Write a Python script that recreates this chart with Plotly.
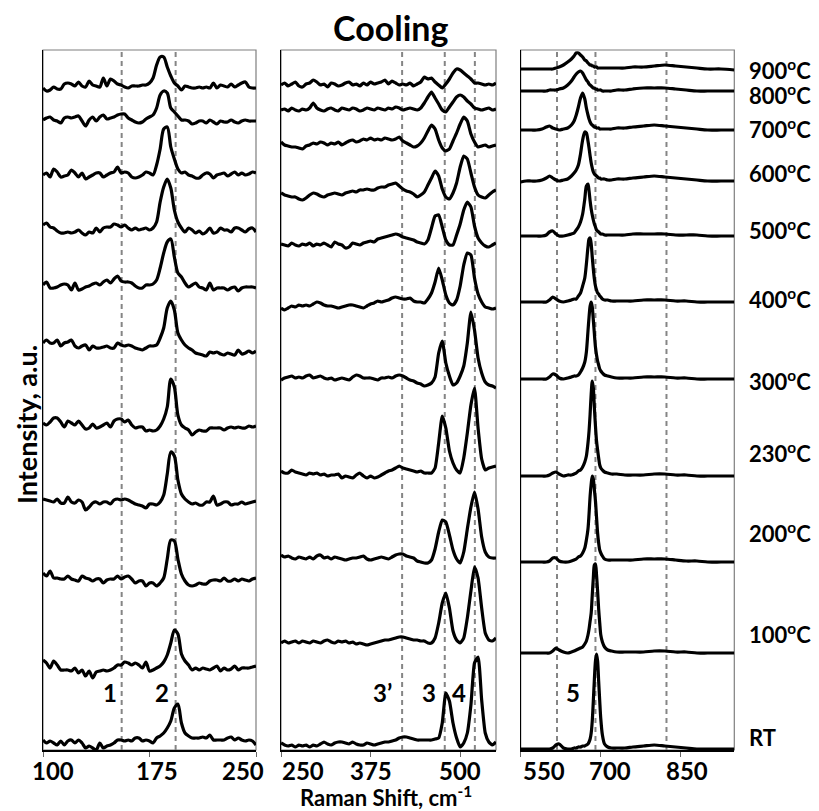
import plotly.graph_objects as go

# ---------------- data ----------------
LABELS = ["900", "800", "700", "600", "500", "400", "300", "230", "200", "100", "RT"]
LABEL_TEXT = ["900<sup>o</sup>C", "800<sup>o</sup>C", "700<sup>o</sup>C", "600<sup>o</sup>C",
              "500<sup>o</sup>C", "400<sup>o</sup>C", "300<sup>o</sup>C", "230<sup>o</sup>C",
              "200<sup>o</sup>C", "100<sup>o</sup>C", "RT"]

# Raman shift sampling (cm-1)
X1 = [100, 102.5, 105, 107.5, 110, 112.5, 115, 117.5, 120, 122.5, 125, 127.5, 130, 132.5, 135,
      137.5, 140, 142.5, 145, 147.5, 150, 152.5, 155, 157.5, 160, 162.5, 165, 167.5, 170, 172.5,
      175, 177.5, 180, 182.5, 185, 187.5, 190, 192.5, 195, 197.5, 200, 202.5, 205, 207.5, 210,
      212.5, 215, 217.5, 220, 222.5, 225, 227.5, 230, 232.5, 235, 237.5, 240, 242.5, 245, 247.5, 250]
X2 = [250, 255, 260, 265, 270, 275, 280, 285, 290, 295, 300, 305, 310, 315, 320, 325, 330, 335,
      340, 345, 350, 355, 360, 365, 370, 375, 380, 385, 390, 395, 400, 405, 410, 415, 420, 425,
      430, 435, 440, 445, 450, 455, 460, 465, 470, 475, 480, 485, 490, 495, 500, 505, 510, 515,
      520, 525, 530, 535, 540, 545, 550]
X3 = [550, 560, 570, 580, 590, 598, 604, 610, 616, 622, 630, 638, 645, 650, 654, 658, 662, 666,
      670, 673, 676, 678, 680, 682, 684, 686, 688, 690, 692, 694, 696, 698, 700, 703, 707, 713,
      720, 730, 745, 760, 780, 800, 820, 840, 860, 880, 900, 925, 950]

# stacking offsets (a.u.) of each spectrum in each panel
BASE1 = [662, 630, 575, 520, 465, 402, 325, 248, 169, 82, 7]
BASE2 = [665, 640, 605, 555, 505, 442, 372, 277, 193, 107, 5]
BASE3 = [681, 659, 620, 569, 514, 448, 371, 274, 188, 97, 1]

# panel 1 intensities (100-250 cm-1)
P1_900 = [0,-3,-2,1,-1,-1,4,5,4,2, 6,2,1,7,3,2,1,10,2,9, 7,4,3,1,0,2,2,2,3,3,
          5,10,23,31,31,21,12,5,2,-2, 2,1,0,0,1,0,1,0,5,0, 3,2,1,4,1,3,5,6,1,0, 0]
P1_800 = [0,2,3,0,-1,-3,2,3,2,3, 4,-1,-6,0,3,-1,3,5,1,2, 3,5,6,6,2,0,-2,-3,-2,1,
          3,5,12,25,29,27,12,8,4,0, 0,-1,-4,-3,-1,-1,-3,0,-2,-4, -1,-2,-2,0,-2,-3,-1,0,-1,-1, -1]
P1_700 = [0,2,-2,6,3,-2,-1,0,5,2, -2,2,-4,-2,0,2,2,-2,0,2, 3,8,2,3,2,-2,-3,-2,0,3,
          2,0,10,26,46,48,28,16,6,2, 3,0,-1,-3,-3,0,2,1,-3,0, 1,2,-1,1,3,0,2,0,1,3, 2]
P1_600 = [5,7,3,2,-1,-3,-3,-2,-3,-2, 0,-3,-5,-2,-3,2,-2,2,3,3, 6,5,3,5,2,0,2,0,1,2,
          0,2,8,28,43,51,42,20,8,2, -2,2,0,-3,-1,-4,-2,2,-3,-2, 2,0,0,-2,2,2,0,-2,1,2, -2]
P1_500 = [0,3,-3,-3,-2,0,1,0,-5,2, -5,-4,-2,-1,1,2,0,3,5,2, 6,9,4,3,3,2,-1,-3,-3,0,
          0,1,5,17,32,43,46,28,12,8, 2,-2,0,2,-2,-3,-5,2,-5,-3, -3,-3,-5,-3,-2,-6,-3,-2,-2,-2, -3]
P1_400 = [5,8,5,5,8,2,5,6,8,2, 0,2,3,-2,2,0,0,1,2,0, 0,5,3,2,3,2,0,-1,-2,0,
          2,2,3,10,20,40,47,38,15,8, 3,0,-2,-5,-6,-7,-8,-4,-5,-4, -6,-7,-5,-6,-7,-2,-6,-5,-3,-5, -3]
P1_300 = [2,0,3,7,7,3,-2,4,2,0, 4,0,-4,-3,1,-3,-2,0,2,-2, 4,6,6,3,5,0,-3,-2,-2,-6,
          -5,-6,-5,-1,6,18,46,38,10,0, -3,-5,-10,-7,-5,-6,-6,-3,-3,-3, -3,-5,-3,-2,-3,-2,-3,-3,-1,-2, -1]
P1_230 = [3,2,1,0,3,-1,-1,5,0,-1, 2,0,-8,-5,-1,0,-2,0,0,-2, 2,3,2,3,2,0,-2,-3,-4,-6,
          -2,-2,-3,0,7,28,50,46,22,8, 3,0,-2,-1,-3,-3,0,0,6,-3, -2,0,0,-3,-2,-2,0,-2,-1,0, 1]
P1_200 = [8,5,10,3,3,2,2,5,2,1, 0,5,3,2,0,2,2,-2,1,2, 2,5,2,4,5,2,-2,0,0,-5,
          -2,-2,-5,-2,3,22,41,40,22,7, 0,-4,-5,-4,-2,-3,-3,0,1,1, 0,3,0,0,2,0,2,1,0,2, 3]
P1_100 = [8,5,0,7,3,-2,-2,-2,-3,0, -5,-2,-8,-3,-10,-4,-3,-2,-3,-2, 0,3,3,6,5,3,5,3,0,6,
          -3,-2,0,2,6,13,25,38,34,14, 7,3,-2,0,-2,0,-1,-2,0,2, -3,0,-2,-1,2,-2,0,0,0,1, 2]
P1_RT = [3,0,2,0,-2,2,-2,2,3,0, 3,0,-5,-3,-5,-7,0,-5,-3,-2, 0,3,3,2,3,2,5,5,2,3,
         2,0,5,7,10,15,22,35,39,20, 10,7,5,5,5,6,5,8,3,3, 3,3,5,6,3,5,3,2,3,2, -2]

# panel 2 intensities (250-550 cm-1)
P2_900 = [0,2,-1,1,3,-1,-2,1,2,5, 3,0,1,-2,2,1,-1,0,2,3, 0,1,-1,2,0,3,1,2,3,5,
          1,4,2,0,1,0,2,-1,1, 3,8,6,7,3,0,-3,1,6,12, 16,15,12,9,6,2,2,1,0,1, 0,2]
P2_800 = [0,1,-1,2,0,-1,1,0,2,7, 2,0,-1,1,2,0,-1,2,1,0, 2,1,-1,0,2,1,0,2,1,0,
          2,1,3,2,0,1,2,1,0, 2,7,13,18,12,6,0,-2,3,8, 13,15,13,9,6,2,1,0,1,2, 0,1]
P2_700 = [3,0,-1,-2,-2,-3,-4,-1,0,2, 1,3,2,0,2,1,3,0,2,4, 5,3,4,6,5,7,5,6,5,7,
          6,5,6,8,4,2,0,-2,-1,2, 7,14,20,16,5,-3,-6,-4,4,12, 21,28,24,11,3,-2,-1,0,-2,-1, 0]
P2_600 = [2,0,-1,-2,-2,-4,-5,-3,0,2, 1,-1,-2,0,1,2,1,0,2,3, 4,3,5,5,6,5,5,7,8,8,
          10,11,12,9,6,4,3,1,-2,0, 3,10,17,24,19,6,-2,-4,2,12, 28,39,36,22,8,0,-2,-3,0,3, 5]
P2_500 = [1,0,-1,2,0,-1,1,0,2,-1, 1,0,2,0,-2,3,1,0,-3,-2, 2,1,0,2,3,4,3,6,7,8,
          9,10,11,10,8,7,6,5,3,2, 1,5,17,29,30,18,5,0,0,10, 21,35,43,38,19,7,2,-1,-2,0, 2]
P2_400 = [0,-2,0,2,1,3,2,3,2,4, 6,5,3,2,2,1,0,1,2,3, 3,2,1,0,2,4,5,7,6,7,
          8,10,11,10,9,9,10,7,6,6, 5,9,15,26,40,28,13,5,3,8, 22,43,55,53,30,14,6,1,0,-1, 0]
P2_300 = [-2,0,1,2,0,1,0,2,3,0, 1,2,0,-1,0,-2,-1,0,-1,-2, 1,3,2,0,0,0,-1,-2,0,0,
          1,0,2,3,2,0,-2,-3,-5,-6, -8,-7,-5,1,25,37,15,2,-7,-5, 2,12,35,66,48,20,5,-4,-7,-8, -10]
P2_230 = [2,0,0,3,1,0,-1,-2,0,-1, 0,-2,-1,-3,-2,-2,-1,-5,-3,-4, -5,-2,0,-3,-5,-3,-5,-4,-2,0,
          2,3,5,7,5,4,3,2,1,2, 0,0,0,5,30,57,45,22,10,3, 0,15,40,68,85,45,14,3,5,6, 7]
P2_200 = [2,0,1,-1,-2,0,-1,-2,0,-2, 1,2,-1,0,-2,0,-1,-2,-3,-2, -1,-1,0,1,-2,-3,-2,-1,0,-1,
          -2,0,2,3,3,1,0,-1,-4,-5, -6,-6,-3,8,25,37,35,22,7,-2, -6,5,28,50,65,48,20,5,0,-1, -1]
P2_100 = [0,2,0,1,2,0,2,1,0,2, 1,0,2,3,1,0,2,1,2,0, 1,-1,0,-1,-2,-1,0,1,2,3,
          3,4,5,6,6,5,4,3,3,2, 2,0,0,5,20,40,50,35,12,3, 0,5,25,52,76,65,35,10,3,2, 5]
P2_RT = [2,0,-1,0,-2,0,-1,0,-2,0, -1,1,3,1,0,2,3,3,2,1, 3,1,0,0,2,1,0,1,2,3,
         3,4,5,7,8,8,7,6,5,5, 5,5,5,6,7,22,52,44,22,7, -2,2,12,40,82,88,45,12,3,0, 3]

# panel 3 intensities (550-950 cm-1)
P3_900 = [0,0,0,0,0, 0,0,0,1,2, 4,7,10,13,16, 16,14,12,9,8, 6,5,4,4,3, 3,2,2,2,1,
          1,1,1,1,1, 1,1,1,1,2, 2,3,4,3,2, 1,0,0,-1]
P3_800 = [0,0,0,0,0, 0,1,1,1,2, 3,6,10,14,17, 19,20,18,14,11, 9,7,6,5,4, 3,3,2,2,1,
          1,1,1,0,0, 0,0,1,1,2, 3,3,3,2,1, 0,0,0,0]
P3_700 = [0,0,0,0,1, 3,4,2,1,0, 1,2,5,9,15, 23,32,37,31,22, 15,11,8,6,5, 4,3,3,2,2,
          2,1,1,1,1, 1,1,2,2,3, 4,5,4,3,2, 1,0,0,0]
P3_600 = [-1,0,0,0,1, 3,5,3,1,0, 1,2,5,8,11, 16,27,41,49,48, 40,33,25,18,13, 9,7,6,5,4,
          3,3,2,2,2, 1,1,2,2,3, 4,5,4,3,2, 1,0,0,0]
P3_500 = [0,0,0,0,0, 1,4,5,2,0, 0,1,2,3,6, 9,14,22,37,50, 52,45,35,27,21, 16,12,9,6,5,
          4,3,2,2,1, 1,1,1,1,2, 2,2,2,1,1, 1,0,0,0]
P3_400 = [0,0,0,0,0, 0,2,5,3,1, 0,1,2,3,3, 6,9,16,24,38, 55,63,64,58,45, 33,23,16,12,9,
          8,6,5,3,2, 2,1,1,1,1, 2,2,2,1,1, 0,0,0,0]
P3_300 = [0,0,0,0,0, 0,2,5,4,1, 0,1,2,3,3, 4,7,11,17,27, 48,62,73,77,72, 59,45,32,24,18,
          14,10,8,6,4, 3,2,1,1,1, 2,2,2,1,1, 0,0,0,0]
P3_230 = [0,0,0,0,0, 0,1,3,4,2, 0,1,1,2,3, 5,6,9,14,20, 33,45,62,82,95, 88,68,50,35,26,
          18,11,8,6,4, 3,2,2,1,1, 1,2,2,1,1, 0,0,0,0]
P3_200 = [0,0,0,0,0, 0,1,4,4,1, 0,0,1,2,3, 5,6,9,14,22, 33,48,66,78,86, 83,72,61,45,29,
          19,12,9,6,3, 2,2,2,2,2, 3,3,3,2,1, 1,0,0,0]
P3_100 = [0,0,0,0,0, 0,0,2,5,3, 1,0,1,2,3, 4,5,6,9,12, 18,24,32,40,58, 75,88,89,78,62,
          44,30,18,11,6, 3,2,1,1,1, 1,2,2,1,1, 0,0,0,0]
P3_RT = [0,0,0,0,0, 0,0,1,4,5, 1,0,0,1,1, 2,2,3,3,4, 5,7,10,16,28, 48,70,88,95,88,
         68,48,30,14,5, 2,1,1,1,2, 3,4,3,2,1, 0,0,0,0]

P1 = [P1_900, P1_800, P1_700, P1_600, P1_500, P1_400, P1_300, P1_230, P1_200, P1_100, P1_RT]
P2 = [P2_900, P2_800, P2_700, P2_600, P2_500, P2_400, P2_300, P2_230, P2_200, P2_100, P2_RT]
P3 = [P3_900, P3_800, P3_700, P3_600, P3_500, P3_400, P3_300, P3_230, P3_200, P3_100, P3_RT]

# reference band positions (dashed lines)
BANDS1 = [155.4, 193.4]
BANDS2 = [419, 478.5, 520.5]
BANDS3 = [618, 690, 823]

# band labels
BAND_LABELS = [("1", 147, "x"), ("2", 184, "x"), ("3\u2019", 392, "x2"),
               ("3", 456, "x2"), ("4", 499, "x2"), ("5", 648.5, "x3")]

TICKS1 = [100, 175, 250]
TICKS2 = [250, 375, 500]
TICKS3 = [550, 700, 850]

# ---------------- figure ----------------
OFF = 8                      # page body margin
W, H = 819 - OFF, 811 - OFF  # figure size in the page


def px(v):
    return v - OFF


FONT = "Lato"
fig = go.Figure()

panels = [
    (X1, P1, BASE1, "x", "y", 0.8),
    (X2, P2, BASE2, "x2", "y2", 0.5),
    (X3, P3, BASE3, "x3", "y3", 0.8),
]
for X, P, B, xa, ya, sm in panels:
    for lab, rel, base in zip(LABELS, P, B):
        fig.add_trace(go.Scatter(
            x=X, y=[base + v for v in rel], mode="lines", name=lab,
            line=dict(color="black", width=3.2, shape="spline", smoothing=sm),
            xaxis=xa, yaxis=ya, showlegend=False, hoverinfo="skip"))

xdoms = [(43, 256), (281, 496), (520.7, 734.3)]
ydom = [1 - px(750) / H, 1 - px(50) / H]
xranges = [[100, 250], [250, 550], [550, 950]]
ticks = [TICKS1, TICKS2, TICKS3]
names = ["", "2", "3"]
layout = {}
for i in range(3):
    n = names[i]
    layout["xaxis" + n] = dict(
        domain=[px(xdoms[i][0]) / W, px(xdoms[i][1]) / W], range=xranges[i], anchor="y" + n,
        showline=True, linecolor="black", linewidth=1.5, ticks="outside",
        tickvals=ticks[i], ticklen=5, tickwidth=1.3, tickcolor="#666666",
        showticklabels=False, showgrid=False, zeroline=False, fixedrange=True)
    layout["yaxis" + n] = dict(
        domain=ydom, range=[0, 700], anchor="x" + n, showline=True, linecolor="black",
        linewidth=1.2, ticks="", showticklabels=False, showgrid=False, zeroline=False,
        fixedrange=True)

shapes = []
for i, bands in enumerate([BANDS1, BANDS2, BANDS3]):
    n = names[i]
    shapes.append(dict(type="rect", xref="x" + n + " domain", yref="y" + n + " domain",
                       x0=0, x1=1, y0=0, y1=1, line=dict(color="#7f7f7f", width=1.2),
                       layer="below"))
    for b in bands:
        shapes.append(dict(type="line", xref="x" + n, yref="y" + n + " domain",
                           x0=b, x1=b, y0=0, y1=1, layer="below",
                           line=dict(color="#858585", width=2, dash="5px,4px")))

ann = []
bold = dict(family=FONT, color="black", weight="bold")
# tick labels
tick_shift = [[10, 7, -13], [22, 0, 0], [23, 9, 6]]
for i in range(3):
    n = names[i]
    for t, s in zip(ticks[i], tick_shift[i]):
        ann.append(dict(text=str(t), x=t, xref="x" + n, y=1 - px(770) / H, yref="paper",
                        xshift=s, showarrow=False, xanchor="center", yanchor="middle",
                        font=dict(size=24, **bold)))
# title
ann.append(dict(text="Cooling", x=px(390) / W, y=1 - px(28) / H, xref="paper", yref="paper",
                showarrow=False, xanchor="center", yanchor="middle", font=dict(size=34, **bold)))
# axis titles
ann.append(dict(text="Raman Shift, cm<sup>-1</sup>", x=px(386) / W, y=1 - px(796) / H,
                xref="paper", yref="paper", showarrow=False, xanchor="center",
                yanchor="middle", font=dict(size=22, **bold)))
ann.append(dict(text="Intensity, a.u.", x=px(26) / W, y=1 - px(425) / H, xref="paper",
                yref="paper", showarrow=False, textangle=-90, xanchor="center",
                yanchor="middle", font=dict(size=27, **bold)))
# temperature labels
label_y = [70, 95, 129, 173, 229, 298, 380, 452, 532, 633, 737]
for txt, yy in zip(LABEL_TEXT, label_y):
    ann.append(dict(text=txt, x=px(747) / W, y=1 - px(yy) / H, xref="paper", yref="paper",
                    showarrow=False, xanchor="left", yanchor="middle",
                    font=dict(size=22, **bold)))
# band labels
for txt, xv, xa in BAND_LABELS:
    ya = "y" + xa[1:]
    ann.append(dict(text=txt, x=xv, xref=xa, y=58, yref=ya, showarrow=False,
                    xanchor="center", yanchor="middle", font=dict(size=24, **bold)))

fig.update_layout(width=W, height=H, autosize=False, margin=dict(l=0, r=0, t=0, b=0),
                  paper_bgcolor="white", plot_bgcolor="white", shapes=shapes,
                  annotations=ann, **layout)

fig.write_html("out.html")
